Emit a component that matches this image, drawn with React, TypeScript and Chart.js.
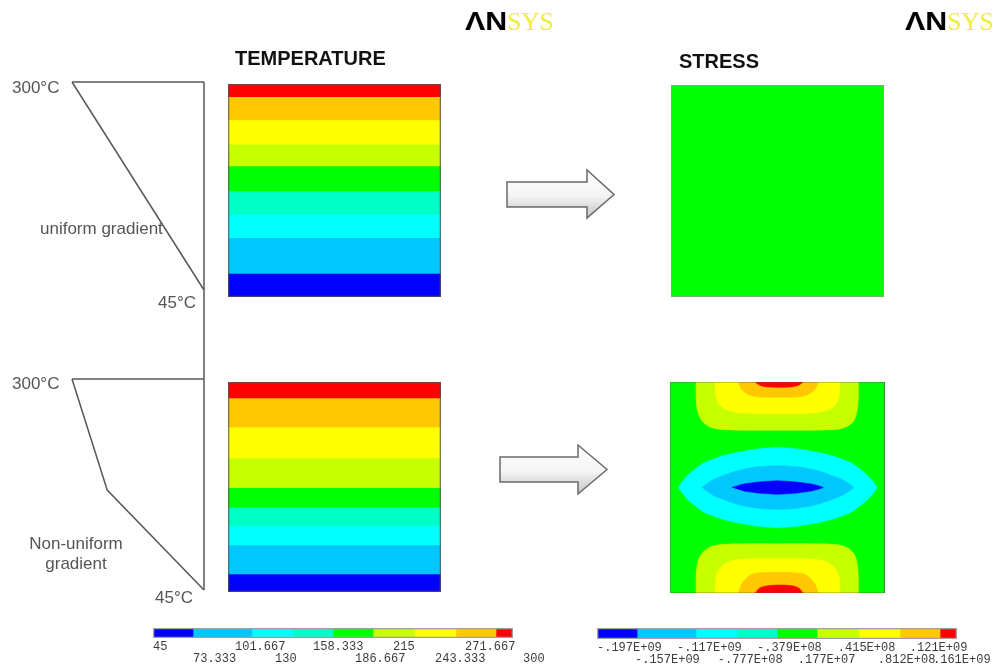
import React, { useEffect, useRef } from "react";
import { Chart, registerables } from "chart.js";

Chart.register(...registerables);

// ---------------- data ----------------
// contour level colours, lowest -> highest
const LEVEL_COLORS = ["#0000FF", "#00C8FF", "#00FFFF", "#00FFC8", "#00FF00", "#C8FF00", "#FFFF00", "#FFC800", "#FF0000"];

const TEMP_LEGEND_LABELS = ["45", "73.333", "101.667", "130", "158.333", "186.667", "215", "243.333", "271.667", "300"];
const STRESS_LEGEND_LABELS = ["-.197E+09", "-.157E+09", "-.117E+09", "-.777E+08", "-.379E+08", ".177E+07", ".415E+08", ".812E+08", ".121E+09", ".161E+09"];
// legend cell edges (in level-index units)
const LEGEND_CELL_EDGES = [0, 1, 2.475, 3.5, 4.5, 5.5, 6.55, 7.575, 8.575, 9];
const TEMP_LABEL_ANCHORS = [0, 1, 2.05, 3.05, 4, 5.05, 6, 7.05, 7.8, 9.25];
const STRESS_LABEL_ANCHORS = [0, 0.95, 2, 3.02, 4, 5.02, 6.02, 7.02, 7.82, 8.4];

// temperature band boundaries, depth 0 = hot face (300°C) .. 1 = cold face (45°C); hottest band first
const UNIFORM_BAND_EDGES = [0, 0.06, 0.169, 0.283, 0.385, 0.501, 0.612, 0.722, 0.889, 1];
const NONUNIFORM_BAND_EDGES = [0, 0.076, 0.214, 0.361, 0.503, 0.596, 0.684, 0.776, 0.914, 1];

// temperature profiles through the thickness
const UNIFORM_PROFILE_TEMP = [300, 45];
const UNIFORM_PROFILE_DEPTH = [0, 1];
const NONUNIFORM_PROFILE_TEMP = [300, 232, 45];
const NONUNIFORM_PROFILE_DEPTH = [0, 0.526, 1];

// stress contour regions for the non-uniform case (x across, y depth; 0..1)
const STRESS_FIELD = [[0, 0], [1, 0], [1, 1], [0, 1]];
const TOP_LOBE_1 = [[0.121, 0], [0.121, 0.071], [0.127, 0.134], [0.147, 0.182], [0.186, 0.213], [0.248, 0.226], [0.496, 0.229], [0.76, 0.226], [0.819, 0.213], [0.856, 0.182], [0.871, 0.134], [0.876, 0.071], [0.876, 0]];
const TOP_LOBE_2 = [[0.209, 0], [0.214, 0.071], [0.233, 0.111], [0.271, 0.134], [0.333, 0.147], [0.496, 0.15], [0.667, 0.147], [0.729, 0.134], [0.767, 0.111], [0.786, 0.071], [0.791, 0]];
const TOP_LOBE_3 = [[0.318, 0], [0.333, 0.036], [0.372, 0.063], [0.419, 0.071], [0.589, 0.071], [0.636, 0.063], [0.674, 0.036], [0.69, 0]];
const TOP_LOBE_4 = [[0.395, 0], [0.419, 0.016], [0.465, 0.024], [0.558, 0.024], [0.597, 0.016], [0.62, 0]];
const BOTTOM_LOBE_1 = [[0.121, 1], [0.121, 0.924], [0.127, 0.861], [0.147, 0.814], [0.186, 0.782], [0.248, 0.769], [0.496, 0.766], [0.76, 0.769], [0.819, 0.782], [0.856, 0.814], [0.871, 0.861], [0.876, 0.924], [0.876, 1]];
const BOTTOM_LOBE_2 = [[0.209, 1], [0.214, 0.924], [0.233, 0.88], [0.271, 0.853], [0.333, 0.84], [0.496, 0.837], [0.667, 0.84], [0.729, 0.853], [0.767, 0.88], [0.786, 0.924], [0.791, 1]];
const BOTTOM_LOBE_3 = [[0.318, 1], [0.333, 0.956], [0.372, 0.916], [0.419, 0.904], [0.589, 0.904], [0.636, 0.916], [0.674, 0.956], [0.69, 1]];
const BOTTOM_LOBE_4 = [[0.395, 1], [0.419, 0.975], [0.465, 0.964], [0.558, 0.964], [0.597, 0.975], [0.62, 1]];
const LENS_1 = [[0.037, 0.5], [0.078, 0.445], [0.153, 0.385], [0.233, 0.353], [0.312, 0.333], [0.403, 0.317], [0.499, 0.309], [0.597, 0.317], [0.688, 0.333], [0.767, 0.353], [0.847, 0.385], [0.922, 0.445], [0.963, 0.5], [0.922, 0.555], [0.847, 0.615], [0.767, 0.647], [0.688, 0.667], [0.597, 0.683], [0.499, 0.691], [0.403, 0.683], [0.312, 0.667], [0.233, 0.647], [0.153, 0.615], [0.078, 0.555]];
const LENS_2 = [[0.147, 0.5], [0.202, 0.461], [0.31, 0.421], [0.403, 0.402], [0.499, 0.396], [0.597, 0.402], [0.69, 0.421], [0.798, 0.461], [0.853, 0.5], [0.798, 0.539], [0.69, 0.579], [0.597, 0.598], [0.499, 0.604], [0.403, 0.598], [0.31, 0.579], [0.202, 0.539]];
const LENS_3 = [[0.287, 0.5], [0.341, 0.484], [0.419, 0.473], [0.499, 0.468], [0.581, 0.473], [0.659, 0.484], [0.713, 0.5], [0.659, 0.516], [0.581, 0.527], [0.499, 0.532], [0.419, 0.527], [0.341, 0.516]];

// ---------------- helpers ----------------
type Area = { x: number; y: number; w: number; h: number };
type Pad = { l: number; t: number; r: number; b: number };

function baseOptions(pad: Pad) {
  return {
    responsive: false,
    maintainAspectRatio: false,
    animation: false as const,
    devicePixelRatio: 1,
    events: [] as any[],
    layout: { padding: { left: pad.l, top: pad.t, right: pad.r, bottom: pad.b } },
    plugins: { legend: { display: false }, tooltip: { enabled: false }, title: { display: false } },
  };
}

function ChartBox({ area, pad, build }: { area: Area; pad: Pad; build: (pad: Pad) => any }) {
  const ref = useRef<HTMLCanvasElement>(null);
  const w = area.w + pad.l + pad.r;
  const h = area.h + pad.t + pad.b;
  useEffect(() => {
    if (!ref.current) return;
    const chart = new Chart(ref.current, build(pad));
    return () => chart.destroy();
  }, []);
  return (
    <canvas
      ref={ref}
      width={w}
      height={h}
      style={{ position: "absolute", left: area.x - pad.l, top: area.y - pad.t, width: w, height: h }}
    />
  );
}

function plateConfig(edges: number[], colorsTopDown: string[]) {
  return (pad: Pad) => {
    const datasets: any[] = colorsTopDown.map((c, i) => ({
      data: [[edges[i], edges[i + 1]]],
      backgroundColor: c,
      borderWidth: 0,
      grouped: false,
      barPercentage: 1,
      categoryPercentage: 1,
    }));
    datasets.unshift({
      data: [[edges[0], edges[edges.length - 1]]],
      backgroundColor: "rgba(0,0,0,0)",
      borderColor: "rgba(85,85,85,0.75)",
      borderWidth: 1,
      borderSkipped: false,
      grouped: false,
      barPercentage: 1,
      categoryPercentage: 1,
    });
    return {
      type: "bar",
      data: { labels: ["plate"], datasets },
      options: {
        ...baseOptions(pad),
        scales: {
          x: { display: false },
          y: { display: false, min: 0, max: 1, reverse: true },
        },
      },
    };
  };
}

function legendConfig(labels: string[], anchors: number[]) {
  return (pad: Pad) => {
    const datasets: any[] = LEVEL_COLORS.map((c, i) => ({
      data: [[LEGEND_CELL_EDGES[i], LEGEND_CELL_EDGES[i + 1]]],
      backgroundColor: c,
      borderWidth: 0,
      grouped: false,
      barPercentage: 1,
      categoryPercentage: 1,
    }));
    datasets.unshift({
      data: [[LEGEND_CELL_EDGES[0], LEGEND_CELL_EDGES[LEGEND_CELL_EDGES.length - 1]]],
      backgroundColor: "rgba(0,0,0,0)",
      borderColor: "#a0a0a0",
      borderWidth: 1,
      borderSkipped: false,
      grouped: false,
      barPercentage: 1,
      categoryPercentage: 1,
    });
    const labelPlugin = {
      id: "legendLabels",
      afterDraw(chart: any) {
        const { ctx, chartArea, scales } = chart;
        ctx.save();
        ctx.font = '12px "Liberation Mono", "DejaVu Sans Mono", monospace';
        ctx.fillStyle = "#3c3c3c";
        ctx.textAlign = "left";
        ctx.textBaseline = "middle";
        labels.forEach((t, i) => {
          const x = scales.x.getPixelForValue(anchors[i]);
          const y = chartArea.bottom + (i % 2 === 0 ? 8.5 : 20.5);
          ctx.fillText(t, x, y);
        });
        ctx.restore();
      },
    };
    return {
      type: "bar",
      data: { labels: ["legend"], datasets },
      options: {
        ...baseOptions(pad),
        indexAxis: "y",
        scales: {
          x: { display: false, min: LEGEND_CELL_EDGES[0], max: LEGEND_CELL_EDGES[LEGEND_CELL_EDGES.length - 1] },
          y: { display: false },
        },
      },
      plugins: [labelPlugin],
    };
  };
}

function profileConfig(temps: number[], depths: number[], wallTo: number) {
  return (pad: Pad) => {
    const line = (pts: { x: number; y: number }[]) => ({
      data: pts,
      showLine: true,
      borderColor: "#585858",
      borderWidth: 1.5,
      pointRadius: 0,
      fill: false,
      tension: 0,
      clip: false,
    });
    const profile = temps.map((t, i) => ({ x: t, y: depths[i] }));
    const tMax = Math.max(...temps);
    const tMin = Math.min(...temps);
    return {
      type: "scatter",
      data: {
        datasets: [
          line([{ x: tMax, y: depths[0] }, { x: tMin, y: depths[0] }]),
          line(profile),
          line([{ x: tMin, y: depths[0] }, { x: tMin, y: wallTo }]),
        ],
      },
      options: {
        ...baseOptions(pad),
        scales: {
          x: { type: "linear", display: false, min: tMin, max: tMax, reverse: true },
          y: { type: "linear", display: false, min: 0, max: wallTo, reverse: true },
        },
      },
    };
  };
}

function uniformStressConfig(pad: Pad) {
  return {
    type: "bar",
    data: {
      labels: ["plate"],
      datasets: [
        {
          data: [[0, 1]],
          backgroundColor: LEVEL_COLORS[4],
          borderColor: "rgba(85,85,85,0.6)",
          borderWidth: 1,
          borderSkipped: false,
          barPercentage: 1,
          categoryPercentage: 1,
        },
      ],
    },
    options: {
      ...baseOptions(pad),
      scales: { x: { display: false }, y: { display: false, min: 0, max: 1, reverse: true } },
    },
  };
}

function nonUniformStressConfig(pad: Pad) {
  const regions: { pts: number[][]; color: string; tension: number }[] = [
    { pts: STRESS_FIELD, color: LEVEL_COLORS[4], tension: 0 },
    { pts: TOP_LOBE_1, color: LEVEL_COLORS[5], tension: 0.3 },
    { pts: TOP_LOBE_2, color: LEVEL_COLORS[6], tension: 0.3 },
    { pts: TOP_LOBE_3, color: LEVEL_COLORS[7], tension: 0.3 },
    { pts: TOP_LOBE_4, color: LEVEL_COLORS[8], tension: 0.3 },
    { pts: BOTTOM_LOBE_1, color: LEVEL_COLORS[5], tension: 0.3 },
    { pts: BOTTOM_LOBE_2, color: LEVEL_COLORS[6], tension: 0.3 },
    { pts: BOTTOM_LOBE_3, color: LEVEL_COLORS[7], tension: 0.3 },
    { pts: BOTTOM_LOBE_4, color: LEVEL_COLORS[8], tension: 0.3 },
    { pts: LENS_1, color: LEVEL_COLORS[2], tension: 0.15 },
    { pts: LENS_2, color: LEVEL_COLORS[1], tension: 0.15 },
    { pts: LENS_3, color: LEVEL_COLORS[0], tension: 0.15 },
  ];
  const n = regions.length + 1;
  const datasets: any[] = regions.map((r, i) => ({
    data: r.pts.map(([x, y]) => ({ x, y })),
    showLine: true,
    fill: "shape",
    backgroundColor: r.color,
    borderColor: r.color,
    borderWidth: 0.5,
    pointRadius: 0,
    tension: r.tension,
    order: n - i,
  }));
  datasets.push({
    data: [...STRESS_FIELD, STRESS_FIELD[0]].map(([x, y]) => ({ x, y })),
    showLine: true,
    fill: false,
    borderColor: "rgba(85,85,85,0.6)",
    borderWidth: 1,
    pointRadius: 0,
    tension: 0,
    order: 0,
  });
  return {
    type: "scatter",
    data: { datasets },
    options: {
      ...baseOptions(pad),
      scales: {
        x: { type: "linear", display: false, min: 0, max: 1 },
        y: { type: "linear", display: false, min: 0, max: 1, reverse: true },
      },
    },
  };
}

// ---------------- text ----------------
const SANS = '"Liberation Sans", Arial, sans-serif';

function Label({ x, cy, size, color, bold, children, align }: any) {
  const lh = Math.round(size * 1.2);
  return (
    <div
      style={{
        position: "absolute",
        left: x,
        top: cy - lh / 2,
        lineHeight: lh + "px",
        fontSize: size,
        fontFamily: SANS,
        fontWeight: bold ? 700 : 400,
        color,
        whiteSpace: "nowrap",
        textAlign: align || "left",
      }}
    >
      {children}
    </div>
  );
}

function Logo({ x }: { x: number }) {
  return (
    <div style={{ position: "absolute", left: x, top: 6, height: 30, lineHeight: "30px", whiteSpace: "nowrap" }}>
      <span
        style={{
          display: "inline-block",
          width: 42,
          fontFamily: SANS,
          fontWeight: 700,
          fontSize: 26,
          color: "#000",
          transform: "scaleX(1.17)",
          transformOrigin: "left center",
        }}
      >
        ΛN
      </span>
      <span style={{ fontFamily: '"Liberation Serif", serif', fontSize: 26, color: "#f3ec3c", letterSpacing: -0.5 }}>SYS</span>
    </div>
  );
}

function Arrows() {
  const arrow = (bx: number, by0: number, by1: number, hx: number, hy0: number, hy1: number, tx: number, ty: number) =>
    `${bx},${by0} ${hx},${by0} ${hx},${hy0} ${tx},${ty} ${hx},${hy1} ${hx},${by1} ${bx},${by1}`;
  return (
    <svg width={1000} height={669} style={{ position: "absolute", left: 0, top: 0, pointerEvents: "none" }}>
      <defs>
        <linearGradient id="arrowFill" x1="0" y1="0" x2="0" y2="1">
          <stop offset="0" stopColor="#ffffff" />
          <stop offset="0.55" stopColor="#f4f4f4" />
          <stop offset="1" stopColor="#c4c4c4" />
        </linearGradient>
      </defs>
      <polygon points={arrow(507, 182, 207, 587, 170, 218, 614, 194.5)} fill="url(#arrowFill)" stroke="#6a6a6a" strokeWidth={1.5} />
      <polygon points={arrow(500, 457, 482, 578, 445, 494, 607, 469.5)} fill="url(#arrowFill)" stroke="#6a6a6a" strokeWidth={1.5} />
    </svg>
  );
}

// ---------------- app ----------------
export default function App() {
  const topDown = [...LEVEL_COLORS].reverse();
  return (
    <div
      style={{
        position: "absolute",
        left: 0,
        top: 0,
        width: 1000,
        height: 669,
        background: "#ffffff",
        overflow: "hidden",
      }}
    >
      {/* thermal profile sketches */}
      <ChartBox
        area={{ x: 72, y: 82, w: 132, h: 297 }}
        pad={{ l: 4, t: 4, r: 4, b: 4 }}
        build={profileConfig(UNIFORM_PROFILE_TEMP, UNIFORM_PROFILE_DEPTH, 1.428)}
      />
      <ChartBox
        area={{ x: 72, y: 379, w: 132, h: 211 }}
        pad={{ l: 4, t: 4, r: 4, b: 4 }}
        build={profileConfig(NONUNIFORM_PROFILE_TEMP, NONUNIFORM_PROFILE_DEPTH, 1)}
      />

      {/* temperature plates */}
      <ChartBox area={{ x: 228, y: 84, w: 213, h: 213 }} pad={{ l: 2, t: 2, r: 2, b: 2 }} build={plateConfig(UNIFORM_BAND_EDGES, topDown)} />
      <ChartBox area={{ x: 228, y: 382, w: 213, h: 210 }} pad={{ l: 2, t: 2, r: 2, b: 2 }} build={plateConfig(NONUNIFORM_BAND_EDGES, topDown)} />

      {/* stress plates */}
      <ChartBox area={{ x: 671, y: 85, w: 213, h: 212 }} pad={{ l: 2, t: 2, r: 2, b: 2 }} build={uniformStressConfig} />
      <ChartBox area={{ x: 670, y: 382, w: 215, h: 211 }} pad={{ l: 2, t: 2, r: 2, b: 2 }} build={nonUniformStressConfig} />

      {/* legends */}
      <ChartBox area={{ x: 153, y: 628, w: 360, h: 10 }} pad={{ l: 4, t: 4, r: 60, b: 31 }} build={legendConfig(TEMP_LEGEND_LABELS, TEMP_LABEL_ANCHORS)} />
      <ChartBox area={{ x: 597, y: 628, w: 360, h: 11 }} pad={{ l: 4, t: 4, r: 43, b: 30 }} build={legendConfig(STRESS_LEGEND_LABELS, STRESS_LABEL_ANCHORS)} />

      <Arrows />

      {/* titles & logos */}
      <Logo x={465} />
      <Logo x={905} />
      <Label x={235} cy={58} size={20} color="#111" bold>TEMPERATURE</Label>
      <Label x={679} cy={61} size={20} color="#111" bold>STRESS</Label>

      {/* profile annotations */}
      <Label x={12} cy={88} size={17} color="#555">300°C</Label>
      <Label x={40} cy={229} size={17} color="#555">uniform gradient</Label>
      <Label x={158} cy={303} size={17} color="#555">45°C</Label>
      <Label x={12} cy={384} size={17} color="#555">300°C</Label>
      <div
        style={{
          position: "absolute",
          left: 20,
          top: 534,
          width: 112,
          textAlign: "center",
          fontFamily: SANS,
          fontSize: 17,
          lineHeight: "20px",
          color: "#555",
        }}
      >
        Non-uniform
        <br />
        gradient
      </div>
      <Label x={155} cy={598} size={17} color="#555">45°C</Label>
    </div>
  );
}
